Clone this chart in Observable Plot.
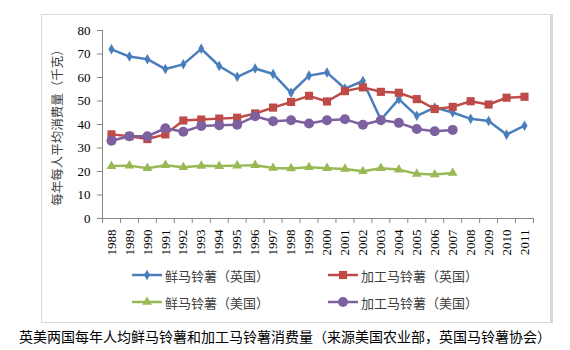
<!DOCTYPE html>
<html><head><meta charset="utf-8">
<script src="https://cdn.jsdelivr.net/npm/d3@7"></script>
<script src="https://cdn.jsdelivr.net/npm/@observablehq/plot@0.6"></script>
<style>
body{margin:0;background:#fff;}
#wrap{position:relative;width:570px;height:350px;overflow:hidden;font-family:"Noto Sans CJK SC","Noto Sans",sans-serif;}
#frame{position:absolute;left:41px;top:14px;width:508px;height:307px;border:1px solid #d9d9d9;box-shadow:2px 0 0 #d9d9d9;}
#chart{position:absolute;left:0;top:0;}
#chart svg text{font-family:"Liberation Serif","Times New Roman",serif !important;}
#chart svg g[aria-label="text"] text{font-family:"Noto Sans CJK SC",sans-serif !important;}
.leg{position:absolute;display:flex;align-items:center;font-size:13px;color:#404040;white-space:nowrap;}
.leg svg{margin-right:3px;}
#caption{position:absolute;left:0;top:326px;width:570px;text-align:center;font-size:14px;color:#000;}
</style></head>
<body><div id="wrap"><div id="frame"></div><div id="chart"></div><div id="legend"></div>
<div id="caption">英美两国每年人均鲜马铃薯和加工马铃薯消费量（来源美国农业部，英国马铃薯协会）</div></div>
<script>
const years = [1988,1989,1990,1991,1992,1993,1994,1995,1996,1997,1998,1999,2000,2001,2002,2003,2004,2005,2006,2007,2008,2009,2010,2011];
const freshUK = [72.0,68.9,67.8,63.6,65.6,72.2,64.9,60.3,63.8,61.5,53.5,60.8,62.1,55.3,58.5,42.0,50.8,43.7,47.2,45.1,42.4,41.5,35.7,39.5];
const processedUK = [35.8,35.0,33.8,35.8,41.7,42.1,42.5,42.9,44.7,47.2,49.6,52.2,49.8,54.2,55.8,53.9,53.5,50.8,46.6,47.5,49.9,48.5,51.4,51.8];
const freshUS = [22.3,22.5,21.4,22.7,21.8,22.4,22.3,22.5,22.7,21.5,21.3,21.8,21.4,21.1,20.1,21.4,20.8,19.0,18.7,19.4];
const processedUS = [33.1,35.0,35.0,38.4,36.9,39.4,39.7,39.9,43.5,41.4,41.8,40.4,41.8,42.2,39.9,41.8,40.7,38.1,37.1,37.7];
const seriesNames = ["鲜马铃薯（英国）","加工马铃薯（英国）","鲜马铃薯（美国）","加工马铃薯（美国）"];
const yTicks = [0,10,20,30,40,50,60,70,80];
const yLabel = "每年每人平均消费量（千克）";

const series = [
  {name: seriesNames[0], values: freshUK, color: "#4a7ebb", symbol: "diamond", r: 3.2},
  {name: seriesNames[1], values: processedUK, color: "#be4b48", symbol: "square", r: 4.6},
  {name: seriesNames[2], values: freshUS, color: "#98b954", symbol: "triangle", r: 3.6},
  {name: seriesNames[3], values: processedUS, color: "#7d60a0", symbol: "circle", r: 5}
];
const rows = series.map(s => s.values.map((v, i) => ({year: years[i], value: v, series: s.name})));
const bounds = [years[0] - 0.5, ...years.map(y => y + 0.5)];
const serif = "Liberation Serif";

const marks = [
  Plot.ruleY([0], {stroke: "#868686", strokeWidth: 1}),
  Plot.ruleX([bounds[0]], {y1: 0, y2: 80, stroke: "#868686", strokeWidth: 1}),
  Plot.axisY({ticks: yTicks, tickSize: 5, tickPadding: 7, label: null, stroke: "#868686", fill: "#000", fontSize: 13, fontFamily: serif}),
  Plot.axisX({ticks: bounds, tickSize: 5, tickFormat: () => "", label: null, stroke: "#868686"}),
  Plot.axisX({ticks: years, tickSize: 0, tickPadding: 11, tickRotate: -90, tickFormat: d => String(d), label: null, fill: "#000", fontSize: 13, fontFamily: serif}),
  Plot.text([yLabel], {frameAnchor: "left", textAnchor: "middle", dx: -45, rotate: -90, fontSize: 12.5, fill: "#404040", fontFamily: "Noto Sans CJK SC"})
];
series.forEach((s, k) => {
  marks.push(Plot.line(rows[k], {x: "year", y: "value", stroke: s.color, strokeWidth: 2.5}));
  marks.push(Plot.dot(rows[k], {x: "year", y: "value", fill: s.color, symbol: s.symbol, r: s.r, stroke: null}));
});

const chart = Plot.plot({
  width: 570, height: 266,
  marginTop: 30, marginBottom: 48, marginLeft: 102, marginRight: 37,
  style: {fontSize: "13px", background: "transparent"},
  x: {type: "linear", domain: [bounds[0], bounds[bounds.length - 1]]},
  y: {domain: [0, 80]},
  marks
});
document.getElementById("chart").append(chart);

// legend
const legPos = [[132, 275], [328, 275], [132, 302], [328, 302]];
const legend = document.getElementById("legend");
series.forEach((s, k) => {
  const div = document.createElement("div");
  div.className = "leg";
  div.style.left = legPos[k][0] + "px";
  div.style.top = (legPos[k][1] - 10) + "px";
  const sym = d3.symbol().type({diamond: d3.symbolDiamond, square: d3.symbolSquare, triangle: d3.symbolTriangle, circle: d3.symbolCircle}[s.symbol]).size(Math.PI * s.r * s.r)();
  div.innerHTML = `<svg width="30" height="20"><line x1="0" x2="30" y1="10" y2="10" stroke="${s.color}" stroke-width="2.5"/><path d="${sym}" transform="translate(15,10)" fill="${s.color}"/></svg><span>${s.name}</span>`;
  legend.append(div);
});
</script></body></html>
